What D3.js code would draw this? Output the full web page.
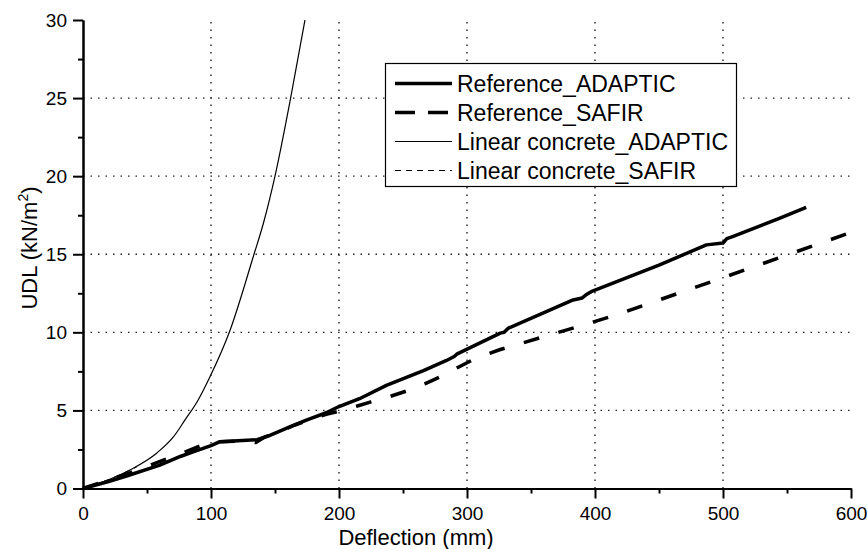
<!DOCTYPE html>
<html>
<head>
<meta charset="utf-8">
<script src="https://cdn.jsdelivr.net/npm/d3@7"></script>
<style>
  body { margin: 0; background: #fff; }
  svg { display: block; font-family: "Liberation Sans", Arial, sans-serif; }
</style>
</head>
<body>
<div id="chart"></div>
<script>
// Series: [deflection (mm), UDL (kN/m2)]
const refAdaptic = [
  [0, 0], [20, 0.45], [34, 0.8], [60, 1.5], [76, 2.05], [86, 2.35], [100, 2.75],
  [107, 3.0], [136, 3.12], [146, 3.4], [162, 3.96], [175, 4.4], [190, 4.85],
  [200, 5.25], [216, 5.75], [237, 6.6], [266, 7.55], [284, 8.2], [290, 8.45],
  [292, 8.6], [326, 9.95], [329, 10.0], [332, 10.25], [382, 12.05], [390, 12.2],
  [393, 12.4], [397, 12.6], [450, 14.3], [487, 15.6], [500, 15.72], [503, 16.0],
  [508, 16.15], [544, 17.3], [565, 18.0]
];
const refSafir = [
  [0, 0], [40, 1.1], [80, 2.35], [92, 2.75], [100, 2.85], [107, 3.0], [130, 3.05],
  [135, 2.95], [142, 3.3], [150, 3.5], [165, 4.05], [190, 4.75], [200, 4.95],
  [215, 5.3], [225, 5.55], [240, 5.9], [253, 6.25], [267, 6.7], [279, 7.15],
  [294, 7.8], [306, 8.3], [326, 8.9], [388, 10.4], [416, 11.1], [493, 13.3], [600, 16.4]
];
const linAdaptic = [
  [0, 0], [20, 0.55], [37, 1.2], [57.5, 2.26], [70.6, 3.3], [79.7, 4.39], [90, 5.67],
  [99.2, 7.15], [114.3, 10], [133.6, 15], [141, 17], [150, 20], [162.2, 25], [173.4, 30]
];
const linSafir = [
  [0, 0], [15, 0.42], [30, 0.92], [42, 1.38]
];

const xTicks = [0, 100, 200, 300, 400, 500, 600];
const xMinor = [50, 150, 250, 350, 450, 550];
const yTicks = [0, 5, 10, 15, 20, 25, 30];
const yMinor = [2.5, 7.5, 12.5, 17.5, 22.5, 27.5];

const series = [
  { name: "Reference_ADAPTIC", values: refAdaptic, width: 3.5, dash: null, legendDash: null, smooth: false },
  { name: "Reference_SAFIR", values: refSafir, width: 3.5, dash: "16,20", legendDash: "20,13", smooth: false },
  { name: "Linear concrete_ADAPTIC", values: linAdaptic, width: 1.2, dash: null, legendDash: null, smooth: true },
  { name: "Linear concrete_SAFIR", values: linSafir, width: 1, dash: "6,5", legendDash: "6,5", smooth: true }
];

const width = 867, height = 549;
const svg = d3.select("#chart").append("svg")
  .attr("width", width)
  .attr("height", height);

const x = d3.scaleLinear().domain([0, 600]).range([83, 851]);
const y = d3.scaleLinear().domain([0, 30]).range([488.5, 20]);

// dotted grid
const grid = svg.append("g")
  .attr("stroke", "#222")
  .attr("stroke-width", 1.4)
  .attr("stroke-dasharray", "1.5,6");
grid.selectAll(".gx")
  .data(xTicks.filter(d => d > 0 && d < 600))
  .enter().append("line")
  .attr("x1", d => x(d)).attr("x2", d => x(d))
  .attr("y1", y(0)).attr("y2", y(30));
grid.selectAll(".gy")
  .data(yTicks.filter(d => d > 0 && d < 30))
  .enter().append("line")
  .attr("y1", d => y(d)).attr("y2", d => y(d))
  .attr("x1", x(0)).attr("x2", x(600));

// axes
svg.append("g")
  .attr("transform", `translate(0,${y(0)})`)
  .call(d3.axisBottom(x).tickValues(xTicks).tickSize(10).tickPadding(8).tickSizeOuter(0));
svg.append("g")
  .attr("transform", `translate(0,${y(0)})`)
  .call(d3.axisBottom(x).tickValues(xMinor).tickSize(5).tickFormat("").tickSizeOuter(0));
svg.append("g")
  .attr("transform", `translate(${x(0)},0)`)
  .call(d3.axisLeft(y).tickValues(yTicks).tickSize(10).tickPadding(6).tickSizeOuter(0));
svg.append("g")
  .attr("transform", `translate(${x(0)},0)`)
  .call(d3.axisLeft(y).tickValues(yMinor).tickSize(5).tickFormat("").tickSizeOuter(0));

svg.selectAll(".domain, .tick line")
  .attr("stroke", "#000")
  .attr("stroke-width", 2);
svg.selectAll(".tick text")
  .attr("fill", "#000")
  .style("font-size", "19px")
  .style("font-family", "'Liberation Sans', Arial, sans-serif");

// axis titles
svg.append("text")
  .attr("x", 416)
  .attr("y", 545)
  .attr("text-anchor", "middle")
  .style("font-size", "22px")
  .text("Deflection (mm)");

const yTitle = svg.append("text")
  .attr("transform", "translate(37,248) rotate(-90)")
  .attr("text-anchor", "middle")
  .style("font-size", "22px");
yTitle.append("tspan").text("UDL (kN/m");
yTitle.append("tspan").attr("dy", -9).style("font-size", "14px").text("2");
yTitle.append("tspan").attr("dy", 9).text(")");

// curves
const line = d3.line().x(d => x(d[0])).y(d => y(d[1]));
const smoothLine = d3.line().x(d => x(d[0])).y(d => y(d[1])).curve(d3.curveMonotoneX);
svg.append("g").selectAll("path")
  .data(series)
  .enter().append("path")
  .attr("d", d => d.smooth ? smoothLine(d.values) : line(d.values))
  .attr("fill", "none")
  .attr("stroke", "#000")
  .attr("stroke-width", d => d.width)
  .attr("stroke-linejoin", "round")
  .attr("stroke-dasharray", d => d.dash);

// legend
const legend = svg.append("g");
legend.append("rect")
  .attr("x", 385.5).attr("y", 63.5)
  .attr("width", 351).attr("height", 123)
  .attr("fill", "#fff")
  .attr("stroke", "#000")
  .attr("stroke-width", 1.2);

const rows = legend.selectAll(".row")
  .data(series)
  .enter().append("g")
  .attr("transform", (d, i) => `translate(0,${92 + i * 29})`);
rows.append("line")
  .attr("x1", 395).attr("x2", 452)
  .attr("y1", -8.5).attr("y2", -8.5)
  .attr("stroke", "#000")
  .attr("stroke-width", d => d.width)
  .attr("stroke-dasharray", d => d.legendDash);
rows.append("text")
  .attr("x", 457)
  .style("font-size", "23px")
  .text(d => d.name);
</script>
</body>
</html>
